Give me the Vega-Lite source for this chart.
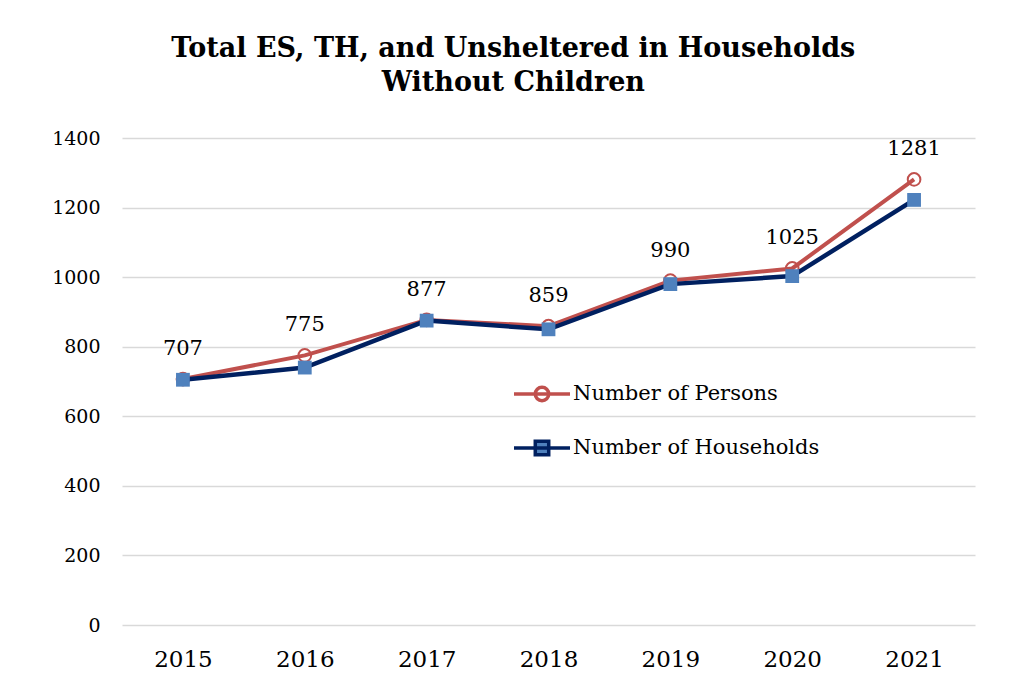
{
  "$schema": "https://vega.github.io/schema/vega-lite/v6.json",
  "width": 853,
  "height": 487,
  "autosize": {"type": "none"},
  "padding": {"left": 122, "top": 138, "right": 45, "bottom": 62},
  "background": "white",
  "config": {"view": {"stroke": null}},
  "title": {
    "text": ["Total ES, TH, and Unsheltered in Households", "Without Children"],
    "font": "DejaVu Serif",
    "fontWeight": "bold",
    "fontSize": 27,
    "lineHeight": 34,
    "color": "#000000",
    "anchor": "middle",
    "frame": "bounds",
    "offset": 32
  },
  "data": {
    "values": [
      {"year": "2015", "series": "Number of Persons", "value": 707},
      {"year": "2016", "series": "Number of Persons", "value": 775},
      {"year": "2017", "series": "Number of Persons", "value": 877},
      {"year": "2018", "series": "Number of Persons", "value": 859},
      {"year": "2019", "series": "Number of Persons", "value": 990},
      {"year": "2020", "series": "Number of Persons", "value": 1025},
      {"year": "2021", "series": "Number of Persons", "value": 1281},
      {"year": "2015", "series": "Number of Households", "value": 705},
      {"year": "2016", "series": "Number of Households", "value": 740},
      {"year": "2017", "series": "Number of Households", "value": 875},
      {"year": "2018", "series": "Number of Households", "value": 850},
      {"year": "2019", "series": "Number of Households", "value": 980},
      {"year": "2020", "series": "Number of Households", "value": 1003},
      {"year": "2021", "series": "Number of Households", "value": 1222}
    ]
  },
  "encoding": {
    "x": {
      "field": "year",
      "type": "ordinal",
      "scale": {"type": "point", "padding": 0.5},
      "axis": {
        "title": null,
        "labelAngle": 0,
        "domain": false,
        "ticks": false,
        "grid": false,
        "labelFont": "DejaVu Serif",
        "labelFontSize": 23,
        "labelColor": "#000000",
        "labelPadding": 23
      }
    },
    "y": {
      "field": "value",
      "type": "quantitative",
      "scale": {"domain": [0, 1400], "nice": false},
      "axis": {
        "title": null,
        "values": [0, 200, 400, 600, 800, 1000, 1200, 1400],
        "format": "d",
        "domain": false,
        "ticks": false,
        "grid": true,
        "gridColor": "#d9d9d9",
        "gridWidth": 1.5,
        "labelFont": "DejaVu Serif",
        "labelFontSize": 19,
        "labelColor": "#000000",
        "labelPadding": 22
      }
    }
  },
  "layer": [
    {
      "transform": [{"filter": "datum.series === 'Number of Persons'"}],
      "mark": {"type": "line", "strokeWidth": 4},
      "encoding": {
        "color": {
          "field": "series",
          "type": "nominal",
          "scale": {"domain": ["Number of Persons", "Number of Households"], "range": ["#C0504D", "#002060"]},
          "legend": {
            "title": null,
            "orient": "none",
            "legendX": 390,
            "legendY": 226,
            "padding": 0,
            "symbolSize": 3136,
            "symbolStrokeWidth": 3.5,
            "labelFont": "DejaVu Serif",
            "labelFontSize": 21,
            "labelColor": "#000000",
            "labelOffset": 1,
            "rowPadding": 10,
            "labelLimit": 400,
            "encode": {
              "symbols": {
                "update": {
                  "shape": {"signal": "datum.value === 'Number of Persons' ? 'M-1,0H1M0.24,0A0.24,0.24 0 1,1 -0.24,0A0.24,0.24 0 1,1 0.24,0' : 'M-1,0H1M-0.24,-0.24H0.24V0.24H-0.24Z'"},
                  "fill": {"signal": "datum.value === 'Number of Persons' ? 'white' : '#4F81BD'"},
                  "fillOpacity": {"value": 1},
                  "opacity": {"value": 1}
                }
              }
            }
          }
        }
      }
    },
    {
      "transform": [{"filter": "datum.series === 'Number of Persons'"}],
      "mark": {"type": "point", "shape": "circle", "size": 160, "filled": false, "stroke": "#C0504D", "strokeWidth": 2, "opacity": 1}
    },
    {
      "transform": [{"filter": "datum.series === 'Number of Households'"}],
      "mark": {"type": "line", "strokeWidth": 4.5},
      "encoding": {
        "color": {"field": "series", "type": "nominal"}
      }
    },
    {
      "transform": [{"filter": "datum.series === 'Number of Households'"}],
      "mark": {"type": "point", "shape": "square", "size": 190, "filled": true, "fill": "#4F81BD", "opacity": 1}
    },
    {
      "transform": [{"filter": "datum.series === 'Number of Persons'"}],
      "mark": {"type": "text", "dy": -30, "font": "DejaVu Serif", "fontSize": 21, "color": "#000000"},
      "encoding": {"text": {"field": "value", "type": "quantitative"}}
    }
  ]
}
